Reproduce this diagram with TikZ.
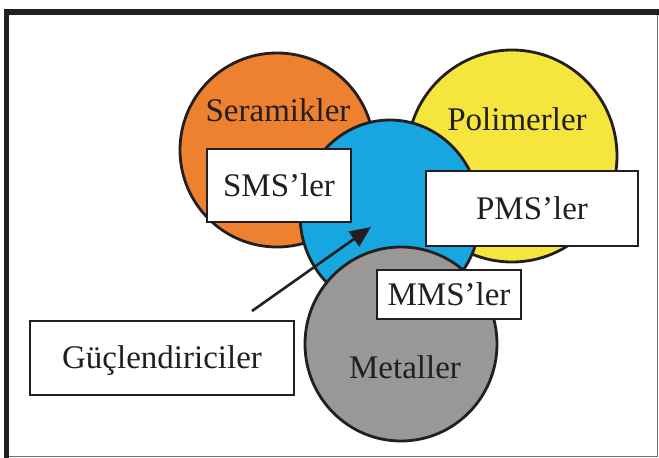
\documentclass[tikz,border=0pt]{standalone}
\usepackage{fontspec}
\setmainfont{Liberation Serif}
\usetikzlibrary{arrows.meta,shapes.geometric}
\definecolor{ink}{HTML}{231F20}
\definecolor{cOrange}{HTML}{EE8130}
\definecolor{cYellow}{HTML}{F6E53D}
\definecolor{cBlue}{HTML}{17A6E0}
\definecolor{cGray}{HTML}{999897}
\definecolor{frameGray}{HTML}{6E6E6E}
\tikzset{
  blob/.style={ellipse, draw=ink, line width=2.8pt, inner sep=0pt},
  labeltext/.style={anchor=base, text=ink, inner sep=0pt, font=\fontsize{33}{36}\selectfont},
  box/.style={rectangle, draw=ink, fill=white, line width=2.8pt, text=ink, inner sep=0pt,
    text height=21pt, text depth=0pt, font=\fontsize{33}{36}\selectfont},
  pointer/.style={draw=ink, line width=2.6pt, -{Triangle[length=21pt,width=18pt]}}
}
\begin{document}
\begin{tikzpicture}[x=1pt,y=-1pt]
\useasboundingbox (0,0) rectangle (659,458);
\fill[white] (0,0) rectangle (659,458);
% frame
\draw[line width=1pt, draw=frameGray] (8,14) rectangle (657.5,456);
\draw[line width=6pt, draw=ink] (4,12) -- (659,12);
\draw[line width=5.5pt, draw=ink] (6.5,9) -- (6.5,458);
% circles
\node[blob, fill=cOrange, minimum width=194pt, minimum height=194pt] (ceram) at (277,150) {};
\node[blob, fill=cYellow, minimum width=210pt, minimum height=212pt] (poly) at (512,156) {};
\node[blob, fill=cBlue, minimum width=180pt, minimum height=190pt] (fiber) at (390,215) {};
\node[blob, fill=cGray, minimum width=192pt, minimum height=194pt] (metal) at (401,344) {};
% circle labels
\node[labeltext] (tceram) at (278,121) {Seramikler};
\node[labeltext] (tpoly) at (517,130) {Polimerler};
\node[labeltext] (tmetal) at (405,378) {Metaller};
% boxes
\node[box, minimum width=144pt, minimum height=73pt] (sms) at (279,185.5) {SMS’ler};
\node[box, minimum width=212pt, minimum height=75pt] (pms) at (532,208.5) {PMS’ler};
\node[box, minimum width=144pt, minimum height=49pt] (mms) at (449,294.5) {MMS’ler};
\node[box, minimum width=264pt, minimum height=74pt] (guc) at (162,358) {Güçlendiriciler};
% arrow
\coordinate (arrS) at (252,311);
\coordinate (arrE) at (371,227);
\draw[pointer] (arrS) -- (arrE);
\end{tikzpicture}
\end{document}
